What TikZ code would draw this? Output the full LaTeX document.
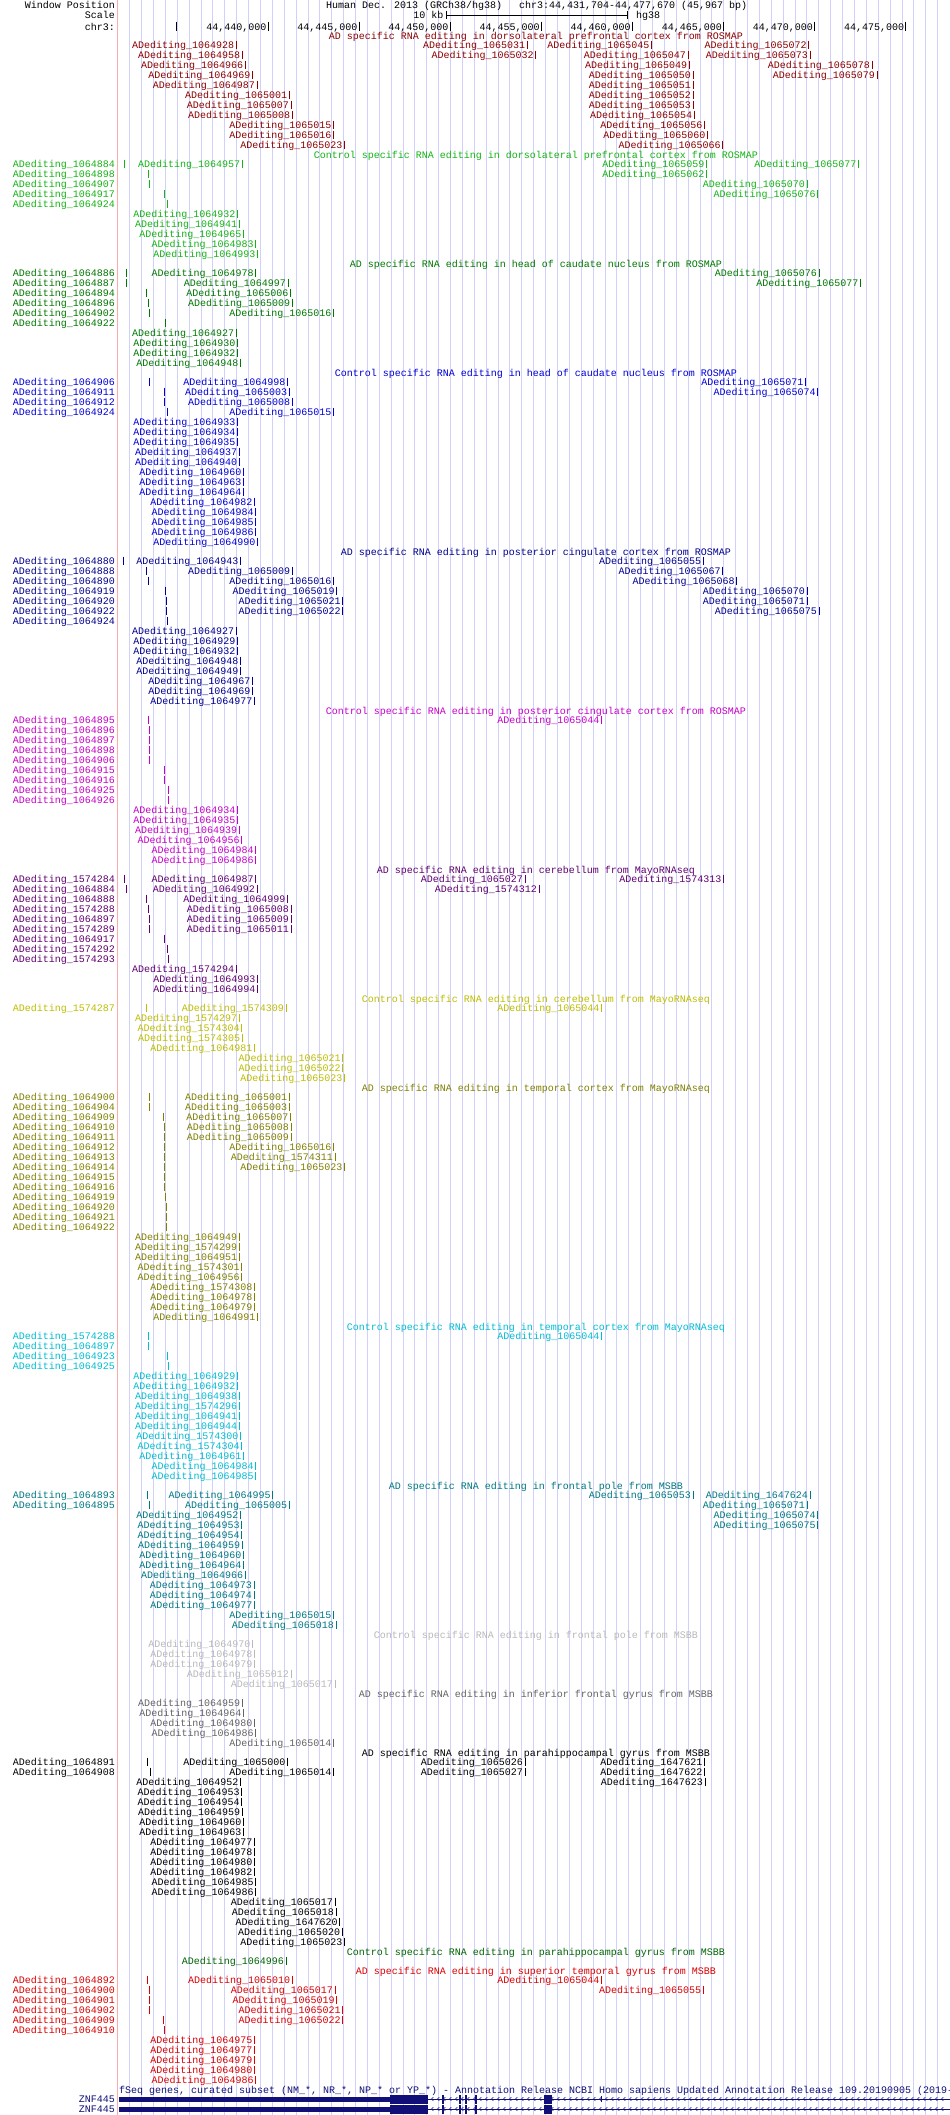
\documentclass[tikz,border=0pt]{standalone}
\usepackage{fontspec}
\setmainfont{Liberation Mono}
\setmonofont{Liberation Mono}
\definecolor{c1}{RGB}{140,0,0}
\definecolor{c2}{RGB}{20,180,20}
\definecolor{c3}{RGB}{0,120,0}
\definecolor{c4}{RGB}{0,0,215}
\definecolor{c5}{RGB}{0,0,140}
\definecolor{c6}{RGB}{200,0,200}
\definecolor{c7}{RGB}{96,0,110}
\definecolor{c8}{RGB}{190,190,0}
\definecolor{c9}{RGB}{128,128,0}
\definecolor{c10}{RGB}{0,190,210}
\definecolor{c11}{RGB}{0,120,130}
\definecolor{c12}{RGB}{185,185,185}
\definecolor{c13}{RGB}{100,100,100}
\definecolor{c14}{RGB}{0,0,0}
\definecolor{c15}{RGB}{0,100,0}
\definecolor{c16}{RGB}{220,0,0}
\definecolor{genec}{RGB}{16,16,120}
\definecolor{gridc}{RGB}{208,208,250}
\definecolor{redl}{RGB}{255,170,170}
\newcount\nn
\def\cury{25.7}
\def\curcol{black}
\newcommand\adv[1]{\pgfmathsetmacro\tmpy{\cury+#1}\xdef\cury{\tmpy}}
\newcommand\ttl[2]{\adv{10}\xdef\curcol{#1}\global\advance\nn by 1\relax
  \node[ttlst,text=#1] (n\the\nn) at (536,{\cury+3.3}) {#2};\adv{-1}}
\newcommand\rw{\adv{10}}
\newcommand\ft[2]{\global\advance\nn by 1\relax
  \node[lab,text=\curcol] (n\the\nn) at ({#1-2},{\cury+3.3}) {ADediting\_#2};
  \draw[ftick,draw=\curcol] (#1,{\cury-4}) -- (#1,{\cury+4.3});}
\newcommand\lf[2]{\global\advance\nn by 1\relax
  \node[lab,text=\curcol] (n\the\nn) at (115,{\cury+3.3}) {ADediting\_#2};
  \draw[ftick,draw=\curcol] (#1,{\cury-4}) -- (#1,{\cury+4.3});}
\tikzset{
  lab/.style={anchor=base east},
  lw/.style={anchor=base west},
  ttlst/.style={anchor=base},
  ftick/.style={line width=1pt},
  gridl/.style={draw=gridc,line width=0.8pt},
}
\begin{document}
\begin{tikzpicture}[x=1pt,y=-1pt,every node/.style={inner sep=0pt,font=\fontsize{10}{10}\selectfont}]
\useasboundingbox (0,0) rectangle (950,2115);
\fill[white] (0,0) rectangle (950,2115);
\foreach \k in {0,...,68} \draw[gridl] ({129.7+11.88*\k},0) -- ({129.7+11.88*\k},2115);
\draw[draw=redl,line width=1pt] (117,0) -- (117,2115);
% header
\node[lab] (hwp) at (115,8.3) {Window Position};
\node[lw] (hum) at (326,8.3) {Human Dec. 2013 (GRCh38/hg38)};
\node[lw] (pos) at (519,8.3) {chr3:44,431,704-44,477,670 (45,967 bp)};
\node[lab] (hsc) at (115,18.3) {Scale};
\node[lab] (tenkb) at (443.5,18.3) {10 kb};
\coordinate (sb1) at (446.4,15);
\coordinate (sb2) at (627.3,15);
\draw[line width=1pt] (sb1) -- (sb2);
\draw[line width=1pt] (446.4,11) -- (446.4,19);
\draw[line width=1pt] (627.3,11) -- (627.3,19);
\node[lw] (hg) at (636,18.3) {hg38};
\node[lab] (hchr) at (115,30) {chr3:};
\draw[line width=1pt] (176.9,21.7) -- (176.9,30.7);
\foreach \k/\lbl in {1/{44,440,000},2/{44,445,000},3/{44,450,000},4/{44,455,000},5/{44,460,000},6/{44,465,000},7/{44,470,000},8/{44,475,000}}{
  \pgfmathsetmacro\tx{176.9+91.1*\k}
  \draw[line width=1pt] (\tx,21.7) -- (\tx,30.7);
  \node[lab] (r\k) at ({\tx-1.5},30) {\lbl};
}
% Track 1
\ttl{c1}{AD specific RNA editing in dorsolateral prefrontal cortex from ROSMAP}
\rw\ft{236.3}{1064928}\ft{527.4}{1065031}\ft{651.6}{1065045}\ft{808.8}{1065072}
\rw\ft{242.4}{1064958}\ft{535.9}{1065032}\ft{688.2}{1065047}\ft{810}{1065073}
\rw\ft{245.4}{1064966}\ft{689.4}{1065049}\ft{872.1}{1065078}
\rw\ft{252.7}{1064969}\ft{693}{1065050}\ft{877}{1065079}
\rw\ft{257}{1064987}\ft{693}{1065051}
\rw\ft{289.3}{1065001}\ft{693}{1065052}
\rw\ft{291.1}{1065007}\ft{693}{1065053}
\rw\ft{292.3}{1065008}\ft{694.3}{1065054}
\rw\ft{333.7}{1065015}\ft{704.6}{1065056}
\rw\ft{333.7}{1065016}\ft{707.7}{1065060}
\rw\ft{344.7}{1065023}\ft{722.9}{1065066}
% Track 2
\ttl{c2}{Control specific RNA editing in dorsolateral prefrontal cortex from ROSMAP}
\rw\lf{124.8}{1064884}\ft{242.4}{1064957}\ft{706.5}{1065059}\ft{858.7}{1065077}
\rw\lf{148}{1064898}\ft{706.5}{1065062}
\rw\lf{149.2}{1064907}\ft{807}{1065070}
\rw\lf{164.4}{1064917}\ft{817.9}{1065076}
\rw\lf{167.5}{1064924}
\rw\ft{237.5}{1064932}
\rw\ft{239.3}{1064941}
\rw\ft{243.6}{1064965}
\rw\ft{255.8}{1064983}
\rw\ft{257.6}{1064993}
% Track 3
\ttl{c3}{AD specific RNA editing in head of caudate nucleus from ROSMAP}
\rw\lf{126.7}{1064886}\ft{255.8}{1064978}\ft{819.1}{1065076}
\rw\lf{126.7}{1064887}\ft{288}{1064997}\ft{860.5}{1065077}
\rw\lf{146.2}{1064894}\ft{290.5}{1065006}
\rw\lf{148}{1064896}\ft{292.3}{1065009}
\rw\lf{149.2}{1064902}\ft{333.7}{1065016}
\rw\lf{165.7}{1064922}
\rw\ft{236.3}{1064927}
\rw\ft{237.5}{1064930}
\rw\ft{237.5}{1064932}
\rw\ft{240.6}{1064948}
% Track 4
\ttl{c4}{Control specific RNA editing in head of caudate nucleus from ROSMAP}
\rw\lf{149.2}{1064906}\ft{287.5}{1064998}\ft{805.7}{1065071}
\rw\lf{164.4}{1064911}\ft{289.3}{1065003}\ft{817.9}{1065074}
\rw\lf{164.4}{1064912}\ft{292.3}{1065008}
\rw\lf{167.5}{1064924}\ft{333.7}{1065015}
\rw\ft{237.5}{1064933}
\rw\ft{237.5}{1064934}
\rw\ft{237.5}{1064935}
\rw\ft{239.3}{1064937}
\rw\ft{239.3}{1064940}
\rw\ft{243.6}{1064960}
\rw\ft{243.6}{1064963}
\rw\ft{243.6}{1064964}
\rw\ft{254.6}{1064982}
\rw\ft{255.8}{1064984}
\rw\ft{255.8}{1064985}
\rw\ft{255.8}{1064986}
\rw\ft{257.6}{1064990}
% Track 5
\ttl{c5}{AD specific RNA editing in posterior cingulate cortex from ROSMAP}
\rw\lf{123.6}{1064880}\ft{240.6}{1064943}\ft{703.4}{1065055}
\rw\lf{146.2}{1064888}\ft{292.3}{1065009}\ft{722.9}{1065067}
\rw\lf{148}{1064890}\ft{333.7}{1065016}\ft{736.9}{1065068}
\rw\lf{165.7}{1064919}\ft{336.8}{1065019}\ft{807}{1065070}
\rw\lf{166.3}{1064920}\ft{342.9}{1065021}\ft{807}{1065071}
\rw\lf{166.3}{1064922}\ft{342.9}{1065022}\ft{819.1}{1065075}
\rw\lf{167.5}{1064924}
\rw\ft{236.3}{1064927}
\rw\ft{237.5}{1064929}
\rw\ft{237.5}{1064932}
\rw\ft{240.6}{1064948}
\rw\ft{240.6}{1064949}
\rw\ft{252.7}{1064967}
\rw\ft{252.7}{1064969}
\rw\ft{254.6}{1064977}
% Track 6
\ttl{c6}{Control specific RNA editing in posterior cingulate cortex from ROSMAP}
\rw\lf{148}{1064895}\ft{601.7}{1065044}
\rw\lf{149.2}{1064896}
\rw\lf{149.2}{1064897}
\rw\lf{149.2}{1064898}
\rw\lf{149.8}{1064906}
\rw\lf{164.4}{1064915}
\rw\lf{164.4}{1064916}
\rw\lf{168.1}{1064925}
\rw\lf{168.1}{1064926}
\rw\ft{237.5}{1064934}
\rw\ft{237.5}{1064935}
\rw\ft{239.3}{1064939}
\rw\ft{241.8}{1064956}
\rw\ft{255.8}{1064984}
\rw\ft{255.8}{1064986}
% Track 7
\ttl{c7}{AD specific RNA editing in cerebellum from MayoRNAseq}
\rw\lf{124.8}{1574284}\ft{255.8}{1064987}\ft{525}{1065027}\ft{723.5}{1574313}
\rw\lf{126}{1064884}\ft{257}{1064992}\ft{539}{1574312}
\rw\lf{146.2}{1064888}\ft{287.5}{1064999}
\rw\lf{148}{1574288}\ft{291.1}{1065008}
\rw\lf{149.2}{1064897}\ft{291.1}{1065009}
\rw\lf{149.2}{1574289}\ft{291.1}{1065011}
\rw\lf{164.4}{1064917}
\rw\lf{167.5}{1574292}
\rw\lf{168.1}{1574293}
\rw\ft{236.3}{1574294}
\rw\ft{257.6}{1064993}
\rw\ft{257.6}{1064994}
% Track 8
\ttl{c8}{Control specific RNA editing in cerebellum from MayoRNAseq}
\rw\lf{146.2}{1574287}\ft{286.2}{1574309}\ft{601.7}{1065044}
\rw\ft{239.3}{1574297}
\rw\ft{241.8}{1574304}
\rw\ft{242.4}{1574305}
\rw\ft{254.6}{1064981}
\rw\ft{342.9}{1065021}
\rw\ft{342.9}{1065022}
\rw\ft{344.7}{1065023}
% Track 9
\ttl{c9}{AD specific RNA editing in temporal cortex from MayoRNAseq}
\rw\lf{149.2}{1064900}\ft{289.3}{1065001}
\rw\lf{149.2}{1064904}\ft{289.3}{1065003}
\rw\lf{163.2}{1064909}\ft{290.5}{1065007}
\rw\lf{164.4}{1064910}\ft{291.1}{1065008}
\rw\lf{164.4}{1064911}\ft{291.1}{1065009}
\rw\lf{164.4}{1064912}\ft{333.7}{1065016}
\rw\lf{164.4}{1064913}\ft{335}{1574311}
\rw\lf{164.4}{1064914}\ft{344.7}{1065023}
\rw\lf{164.4}{1064915}
\rw\lf{164.4}{1064916}
\rw\lf{165.7}{1064919}
\rw\lf{166.3}{1064920}
\rw\lf{166.3}{1064921}
\rw\lf{166.3}{1064922}
\rw\ft{239.3}{1064949}
\rw\ft{239.3}{1574299}
\rw\ft{239.3}{1064951}
\rw\ft{241.8}{1574301}
\rw\ft{241.8}{1064956}
\rw\ft{254.6}{1574308}
\rw\ft{254.6}{1064978}
\rw\ft{254.6}{1064979}
\rw\ft{257.6}{1064991}
% Track 10
\ttl{c10}{Control specific RNA editing in temporal cortex from MayoRNAseq}
\rw\lf{148}{1574288}\ft{601.7}{1065044}
\rw\lf{148}{1064897}
\rw\lf{167.5}{1064923}
\rw\lf{168.1}{1064925}
\rw\ft{237.5}{1064929}
\rw\ft{237.5}{1064932}
\rw\ft{239.3}{1064938}
\rw\ft{239.3}{1574296}
\rw\ft{239.3}{1064941}
\rw\ft{239.3}{1064944}
\rw\ft{240.6}{1574300}
\rw\ft{241.8}{1574304}
\rw\ft{243.6}{1064961}
\rw\ft{255.8}{1064984}
\rw\ft{255.8}{1064985}
% Track 11
\ttl{c11}{AD specific RNA editing in frontal pole from MSBB}
\rw\lf{147.4}{1064893}\ft{272.8}{1064995}\ft{693}{1065053}\ft{810}{1647624}
\rw\lf{149.2}{1064895}\ft{289.3}{1065005}\ft{807}{1065071}
\rw\ft{240.6}{1064952}\ft{817.9}{1065074}
\rw\ft{241.8}{1064953}\ft{817.9}{1065075}
\rw\ft{241.8}{1064954}
\rw\ft{242.4}{1064959}
\rw\ft{243.6}{1064960}
\rw\ft{243.6}{1064964}
\rw\ft{245.4}{1064966}
\rw\ft{254}{1064973}
\rw\ft{254}{1064974}
\rw\ft{254.6}{1064977}
\rw\ft{333.7}{1065015}
\rw\ft{336.2}{1065018}
% Track 12
\ttl{c12}{Control specific RNA editing in frontal pole from MSBB}
\rw\ft{252.7}{1064970}
\rw\ft{254.6}{1064978}
\rw\ft{254.6}{1064979}
\rw\ft{291.1}{1065012}
\rw\ft{335}{1065017}
% Track 13
\ttl{c13}{AD specific RNA editing in inferior frontal gyrus from MSBB}
\rw\ft{242.4}{1064959}
\rw\ft{243.6}{1064964}
\rw\ft{254.6}{1064980}
\rw\ft{255.8}{1064986}
\rw\ft{333.7}{1065014}
% Track 14
\ttl{c14}{AD specific RNA editing in parahippocampal gyrus from MSBB}
\rw\lf{147.4}{1064891}\ft{287.5}{1065000}\ft{525}{1065026}\ft{704.6}{1647621}
\rw\lf{150.4}{1064908}\ft{333.7}{1065014}\ft{525}{1065027}\ft{704.6}{1647622}
\rw\ft{240.6}{1064952}\ft{705.2}{1647623}
\rw\ft{241.8}{1064953}
\rw\ft{241.8}{1064954}
\rw\ft{242.4}{1064959}
\rw\ft{243.6}{1064960}
\rw\ft{243.6}{1064963}
\rw\ft{254.6}{1064977}
\rw\ft{254.6}{1064978}
\rw\ft{254.6}{1064980}
\rw\ft{254.6}{1064982}
\rw\ft{255.8}{1064985}
\rw\ft{255.8}{1064986}
\rw\ft{335}{1065017}
\rw\ft{336.2}{1065018}
\rw\ft{339.8}{1647620}
\rw\ft{342.3}{1065020}
\rw\ft{344.7}{1065023}
% Track 15
\ttl{c15}{Control specific RNA editing in parahippocampal gyrus from MSBB}
\rw\ft{286.2}{1064996}
% Track 16
\ttl{c16}{AD specific RNA editing in superior temporal gyrus from MSBB}
\rw\lf{147.4}{1064892}\ft{292.3}{1065010}\ft{601.7}{1065044}
\rw\lf{149.2}{1064900}\ft{335}{1065017}\ft{703.4}{1065055}
\rw\lf{149.2}{1064901}\ft{336.8}{1065019}
\rw\lf{149.2}{1064902}\ft{342.9}{1065021}
\rw\lf{163.2}{1064909}\ft{342.9}{1065022}
\rw\lf{164.4}{1064910}
\rw\ft{254.6}{1064975}
\rw\ft{254.6}{1064977}
\rw\ft{254.6}{1064979}
\rw\ft{254.6}{1064980}
\rw\ft{255.8}{1064986}
% Gene track
\node[lw,text=genec] (gtitle) at (119,2093.3) {fSeq genes, curated subset (NM\_*, NR\_*, NP\_* or YP\_*) - Annotation Release NCBI Homo sapiens Updated Annotation Release 109.20190905 (2019-};
\node[lab,text=genec] (g1) at (115,2102.3) {ZNF445};
\node[lab,text=genec] (g2) at (115,2112.3) {ZNF445};
\foreach \yy/\extra in {2099/1,2109/0}{
  \draw[genec,line width=1pt] (428,\yy) -- (950,\yy);
  \foreach \xx in {432,438,...,946}
    \draw[genec,line width=0.6pt] ({\xx+1.3},{\yy-1.8}) -- ({\xx-0.5},\yy) -- ({\xx+1.3},{\yy+1.8});
  \fill[genec] (118.8,{\yy-2.5}) rectangle (389.8,{\yy+2.5});
  \fill[genec] (389.8,{\yy-4.5}) rectangle (428.1,{\yy+4.5});
  \fill[genec] (442.0,{\yy-4.5}) rectangle (443.8,{\yy+4.5});
  \fill[genec] (459.0,{\yy-4.5}) rectangle (461.0,{\yy+4.5});
  \fill[genec] (465.0,{\yy-4.5}) rectangle (467.0,{\yy+4.5});
  \fill[genec] (475.3,{\yy-4.5}) rectangle (477.3,{\yy+4.5});
  \fill[genec] (543.8,{\yy-4.5}) rectangle (552.4,{\yy+4.5});
  \ifnum\extra=1 \fill[genec] (601.0,{\yy-3}) rectangle (602.4,{\yy+3}); \fi
}
\end{tikzpicture}
\end{document}
